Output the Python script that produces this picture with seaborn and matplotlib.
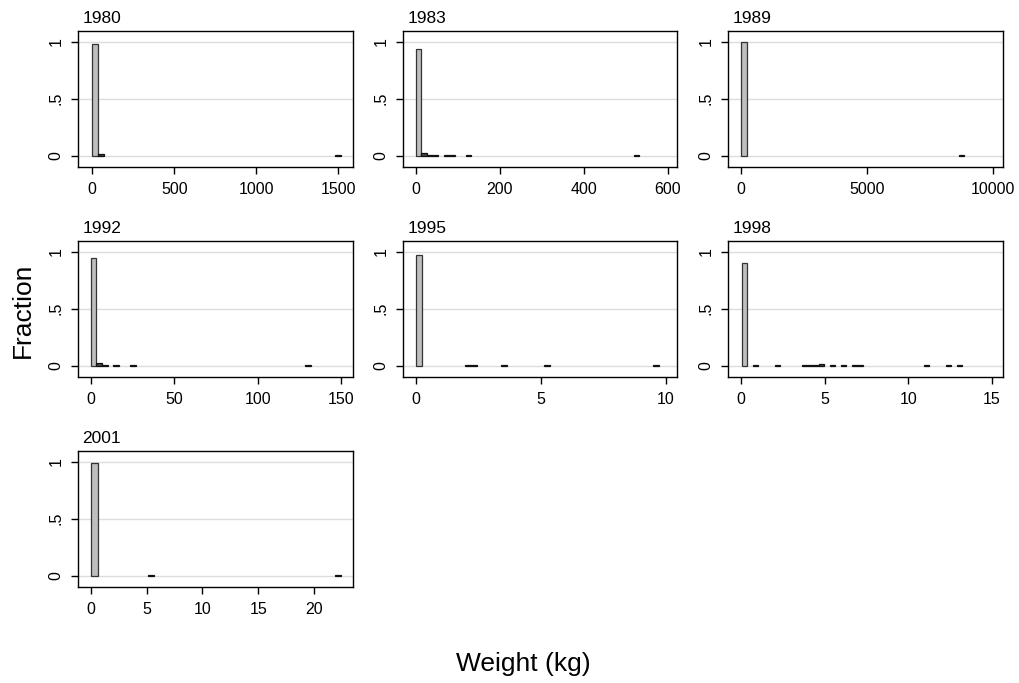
import numpy as np
import pandas as pd
import matplotlib
matplotlib.use("Agg")
import matplotlib.pyplot as plt
import seaborn as sns

# ---- data ----
years = [1980, 1983, 1989, 1992, 1995, 1998, 2001]

# bin start, bin width, bin indices with non-zero fraction, fractions
start_1980, width_1980 = 0.0, 37.0
bins_1980 = [0, 1, 40]
frac_1980 = [0.98, 0.012, 0.006]

start_1983, width_1983 = 0.0, 13.3
bins_1983 = [0, 1, 2, 3, 5, 6, 9, 39]
frac_1983 = [0.933, 0.02, 0.008, 0.008, 0.008, 0.008, 0.006, 0.006]

start_1989, width_1989 = 0.0, 222.0
bins_1989 = [0, 39]
frac_1989 = [0.995, 0.005]

start_1992, width_1992 = 0.0, 3.38
bins_1992 = [0, 1, 2, 4, 7, 38]
frac_1992 = [0.942, 0.026, 0.008, 0.006, 0.006, 0.006]

start_1995, width_1995 = 0.0, 0.243
bins_1995 = [0, 8, 9, 14, 21, 39]
frac_1995 = [0.971, 0.007, 0.007, 0.006, 0.006, 0.006]

start_1998, width_1998 = 0.03, 0.33
bins_1998 = [0, 2, 6, 11, 12, 13, 14, 16, 18, 20, 21, 33, 37, 39]
frac_1998 = [0.898, 0.006, 0.006, 0.006, 0.006, 0.006, 0.015, 0.006,
             0.006, 0.006, 0.006, 0.006, 0.006, 0.006]

start_2001, width_2001 = 0.06, 0.56
bins_2001 = [0, 9, 39]
frac_2001 = [0.986, 0.006, 0.006]

xticks = {
    1980: [0, 500, 1000, 1500],
    1983: [0, 200, 400, 600],
    1989: [0, 5000, 10000],
    1992: [0, 50, 100, 150],
    1995: [0, 5, 10],
    1998: [0, 5, 10, 15],
    2001: [0, 5, 10, 15, 20],
}
xlims = {
    1980: (-87, 1590),
    1983: (-30, 622),
    1989: (-517, 10410),
    1992: (-7.6, 157),
    1995: (-0.53, 10.44),
    1998: (-0.79, 15.68),
    2001: (-1.14, 23.5),
}
yticks = [0, 0.5, 1]
ytick_labels = ["0", ".5", "1"]

panels = {
    1980: (start_1980, width_1980, bins_1980, frac_1980),
    1983: (start_1983, width_1983, bins_1983, frac_1983),
    1989: (start_1989, width_1989, bins_1989, frac_1989),
    1992: (start_1992, width_1992, bins_1992, frac_1992),
    1995: (start_1995, width_1995, bins_1995, frac_1995),
    1998: (start_1998, width_1998, bins_1998, frac_1998),
    2001: (start_2001, width_2001, bins_2001, frac_2001),
}

sns.set_style("white")
plt.rcParams["font.family"] = ["Liberation Sans", "DejaVu Sans"]
plt.rcParams["text.color"] = "black"
plt.rcParams["xtick.color"] = "black"
plt.rcParams["ytick.color"] = "black"

W, H = 1020, 683
fig = plt.figure(figsize=(W / 100, H / 100), dpi=100)

col_left = [78, 403, 728]
col_w = [275, 274, 275]
row_top = [31, 241, 451]
ax_h = 136

for i, yr in enumerate(years):
    r, c = divmod(i, 3)
    ax = fig.add_axes([col_left[c] / W, 1 - (row_top[r] + ax_h) / H,
                       col_w[c] / W, ax_h / H])
    start, width, idx, frac = panels[yr]
    idx = np.array(idx)
    centers = start + (idx + 0.5) * width
    nbins = int(idx.max()) + 1
    df = pd.DataFrame({"x": centers, "w": frac})
    for y in yticks:
        ax.axhline(y, color="#dcdcdc", lw=1.0, zorder=0)
    sns.histplot(data=df, x="x", weights="w", bins=nbins,
                 binrange=(start, start + nbins * width), stat="count",
                 ax=ax, color="#bebebe", alpha=1.0, edgecolor="#333333",
                 linewidth=0.9, zorder=2)
    for p in list(ax.patches):
        if p.get_height() <= 0:
            p.remove()
        elif p.get_height() < 0.05:
            p.set_edgecolor("#111111")
            p.set_facecolor("#444444")
    ax.set_xlim(*xlims[yr])
    ax.set_ylim(-0.1, 1.095)
    ax.set_xticks(xticks[yr])
    ax.set_xticklabels([str(t) for t in xticks[yr]])
    ax.set_yticks(yticks)
    ax.set_yticklabels(ytick_labels, rotation=90, va="center")
    ax.tick_params(axis="both", direction="out", length=5, width=1,
                   color="black", labelcolor="black", labelsize=11.5,
                   pad=5.5, left=True, bottom=True)
    ax.set_xlabel("")
    ax.set_ylabel("")
    for s in ax.spines.values():
        s.set_visible(True)
        s.set_color("black")
        s.set_linewidth(1.0)
    ax.set_title(str(yr), loc="left", fontsize=12.5, pad=5.5, x=0.016,
                 color="black")

fig.text(23 / W, 1 - 310 / H, "Fraction", rotation=90, ha="center",
         va="center", fontsize=19, color="black")
fig.text(523 / W, 1 - 664 / H, "Weight (kg)", ha="center", va="center",
         fontsize=19, color="black")

fig.savefig("out.png", dpi=100, facecolor="white")
